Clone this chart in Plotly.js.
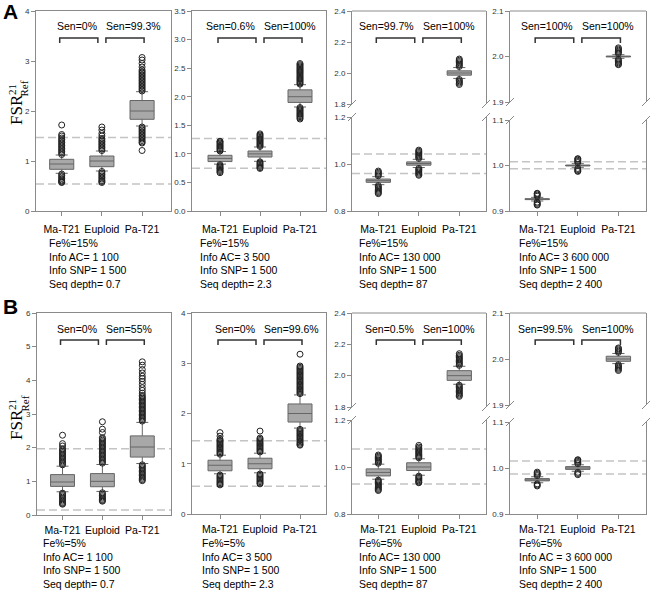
<!DOCTYPE html>
<html><head><meta charset="utf-8">
<script src="https://cdn.plot.ly/plotly-3.0.1.min.js"></script>
<style>html,body{margin:0;padding:0;background:#fff}</style>
</head><body><div id="chart" style="width:654px;height:591px"></div>
<script>
const categories = ['Ma-T21','Euploid','Pa-T21'];

// ---- Panel A1 ----
const A1_low=[0.754,0.80,1.70], A1_q1=[0.834,0.886,1.834], A1_med=[0.94,1.0,2.0], A1_q3=[1.034,1.10,2.21], A1_up=[1.12,1.20,2.386];
const A1_outMa=[1.13,1.16,1.19,1.22,1.25,1.28,1.31,1.34,1.37,1.40,1.43,1.46,1.50,1.53,1.72,0.74,0.71,0.68,0.65,0.62,0.60,0.58,0.57];
const A1_outEu=[1.21,1.24,1.27,1.30,1.33,1.36,1.39,1.42,1.45,1.50,1.55,1.62,1.68,0.79,0.76,0.73,0.70,0.67,0.64,0.61,0.59,0.57];
const A1_outPa=[2.40,2.43,2.46,2.49,2.52,2.55,2.58,2.61,2.64,2.67,2.70,2.73,2.76,2.79,2.82,2.88,2.95,3.02,3.07,1.68,1.65,1.62,1.59,1.56,1.53,1.50,1.47,1.44,1.41,1.38,1.36,1.21];
const A1_cut=[0.54,1.47], A1_sen=['Sen=0%','Sen=99.3%'], A1_info=['Fe%=15%','Info AC= 1 100','Info SNP= 1 500','Seq depth= 0.7'];
// ---- Panel A2 ----
const A2_low=[0.82,0.87,1.82], A2_q1=[0.865,0.945,1.90], A2_med=[0.92,1.0,2.0], A2_q3=[0.975,1.05,2.12], A2_up=[1.04,1.12,2.21];
const A2_outMa=[1.05,1.07,1.09,1.11,1.13,1.15,1.17,1.19,1.21,1.22,0.81,0.79,0.77,0.75,0.73,0.71,0.69,0.67];
const A2_outEu=[1.13,1.15,1.17,1.19,1.21,1.23,1.25,1.27,1.29,1.31,1.33,1.35,0.86,0.84,0.82,0.80,0.78,0.76,0.745];
const A2_outPa=[2.22,2.24,2.26,2.28,2.30,2.32,2.34,2.36,2.38,2.40,2.42,2.44,2.46,2.48,2.50,2.52,2.54,2.56,2.58,1.81,1.79,1.77,1.75,1.73,1.71,1.69,1.67,1.65,1.63,1.61];
const A2_cut=[0.75,1.27], A2_sen=['Sen=0.6%','Sen=100%'], A2_info=['Fe%=15%','Info AC= 3 500','Info SNP= 1 500','Seq depth= 2.3'];
// ---- Panel A3 ----
const A3_low=[0.912,0.985,1.965], A3_q1=[0.922,0.995,1.986], A3_med=[0.929,1.002,2.0], A3_q3=[0.936,1.009,2.014], A3_up=[0.946,1.02,2.035];
const A3_outMa=[0.950,0.955,0.960,0.965,0.970,0.908,0.903,0.898,0.893,0.888,0.883,0.878,0.874];
const A3_outEu=[1.024,1.029,1.034,1.039,1.044,1.049,1.054,1.059,0.981,0.976,0.971,0.966,0.961,0.956,0.952];
const A3_outPa=[2.042,2.050,2.058,2.066,2.074,2.082,2.090,1.958,1.950,1.942,1.934,1.926];
const A3_cut=[0.96,1.043], A3_sen=['Sen=99.7%','Sen=100%'], A3_info=['Fe%=15%','Info AC= 130 000','Info SNP= 1 500','Seq depth= 87'];
// ---- Panel A4 ----
const A4_low=[0.922,0.996,1.996], A4_q1=[0.925,0.999,1.999], A4_med=[0.926,1.0,2.0], A4_q3=[0.927,1.001,2.001], A4_up=[0.930,1.004,2.004];
const A4_outMa=[0.9325,0.935,0.9375,0.939,0.9195,0.917,0.9145,0.913];
const A4_outEu=[1.0065,1.009,1.0115,1.014,1.015,0.9935,0.991,0.9885,0.987];
const A4_outPa=[2.0065,2.009,2.0115,2.014,2.0165,2.019,1.9935,1.991,1.9885,1.986,1.9835,1.982];
const A4_cut=[0.993,1.008], A4_sen=['Sen=100%','Sen=100%'], A4_info=['Fe%=15%','Info AC= 3 600 000','Info SNP= 1 500','Seq depth= 2 400'];
// ---- Panel B1 ----
const B1_low=[0.69,0.70,1.53], B1_q1=[0.85,0.84,1.72], B1_med=[0.98,1.0,2.02], B1_q3=[1.20,1.23,2.35], B1_up=[1.45,1.50,2.75];
const B1_outMa=[1.49,1.53,1.57,1.61,1.65,1.69,1.73,1.77,1.81,1.85,1.89,1.93,1.97,2.05,2.12,2.37,0.65,0.61,0.57,0.53,0.49,0.45,0.41,0.37,0.34,0.32];
const B1_outEu=[1.54,1.58,1.62,1.66,1.70,1.74,1.78,1.82,1.86,1.90,1.94,1.98,2.02,2.06,2.10,2.14,2.18,2.22,2.26,2.30,2.45,2.55,2.77,0.66,0.62,0.58,0.54,0.50,0.46,0.43,0.41];
const B1_outPa=[2.79,2.83,2.87,2.91,2.95,2.99,3.03,3.07,3.11,3.15,3.19,3.23,3.27,3.31,3.35,3.39,3.43,3.47,3.51,3.55,3.62,3.70,3.78,3.88,3.97,4.05,4.12,4.22,4.32,4.45,4.55,1.49,1.45,1.41,1.37,1.33,1.29,1.25,1.21,1.17,1.13,1.09,1.05,1.02];
const B1_cut=[0.15,1.97], B1_sen=['Sen=0%','Sen=55%'], B1_info=['Fe%=5%','Info AC= 1 100','Info SNP= 1 500','Seq depth= 0.7'];
// ---- Panel B2 ----
const B2_low=[0.80,0.82,1.71], B2_q1=[0.86,0.90,1.83], B2_med=[0.97,1.0,2.0], B2_q3=[1.07,1.11,2.19], B2_up=[1.17,1.21,2.37];
const B2_outMa=[1.19,1.215,1.24,1.265,1.29,1.315,1.34,1.365,1.39,1.415,1.44,1.465,1.49,1.55,1.62,0.775,0.75,0.725,0.70,0.675,0.65,0.625,0.60,0.58];
const B2_outEu=[1.235,1.26,1.285,1.31,1.335,1.36,1.385,1.41,1.435,1.46,1.485,1.51,1.65,0.795,0.77,0.745,0.72,0.695,0.67,0.645,0.62,0.60];
const B2_outPa=[2.395,2.42,2.445,2.47,2.495,2.52,2.545,2.57,2.595,2.62,2.645,2.67,2.695,2.72,2.745,2.77,2.795,2.82,2.845,2.87,2.895,2.92,2.945,3.18,1.685,1.66,1.635,1.61,1.585,1.56,1.535,1.51,1.485,1.46,1.435,1.41,1.385,1.37];
const B2_cut=[0.55,1.46], B2_sen=['Sen=0%','Sen=99.6%'], B2_info=['Fe%=5%','Info AC= 3 500','Info SNP= 1 500','Seq depth= 2.3'];
// ---- Panel B3 ----
const B3_low=[0.948,0.965,1.945], B3_q1=[0.962,0.985,1.97], B3_med=[0.977,1.0,2.0], B3_q3=[0.992,1.018,2.032], B3_up=[1.012,1.035,2.06];
const B3_outMa=[1.016,1.021,1.026,1.031,1.036,1.041,1.046,1.051,0.944,0.939,0.934,0.929,0.924,0.919,0.914,0.909,0.904,0.90];
const B3_outEu=[1.039,1.044,1.049,1.054,1.059,1.064,1.069,1.074,1.079,1.085,1.092,0.961,0.956,0.951,0.946,0.941,0.936,0.933];
const B3_outPa=[2.066,2.074,2.082,2.090,2.098,2.106,2.114,2.122,2.130,2.140,1.939,1.931,1.923,1.915,1.907,1.899,1.891,1.883,1.875,1.868];
const B3_cut=[0.928,1.077], B3_sen=['Sen=0.5%','Sen=100%'], B3_info=['Fe%=5%','Info AC= 130 000','Info SNP= 1 500','Seq depth= 87'];
// ---- Panel B4 ----
const B4_low=[0.968,0.993,1.99], B4_q1=[0.972,0.997,1.995], B4_med=[0.974,1.0,2.0], B4_q3=[0.977,1.003,2.006], B4_up=[0.981,1.007,2.012];
const B4_outMa=[0.9835,0.986,0.9885,0.991,0.9655,0.963,0.961];
const B4_outEu=[1.0095,1.012,1.0145,1.017,1.018,0.9905,0.988,0.9855];
const B4_outPa=[2.0145,2.017,2.0195,2.022,2.024,1.9875,1.985,1.9825,1.98,1.9775,1.975];
const B4_cut=[0.987,1.015], B4_sen=['Sen=99.5%','Sen=100%'], B4_info=['Fe%=5%','Info AC = 3 600 000','Info SNP= 1 500','Seq depth= 2 400'];

// ---------- layout geometry (pixels) ----------
const W=654, H=591;
const fx=p=>p/W, fy=p=>1-p/H;
const full=[0,1,2], low2=[0,1], top1=[2];
const panels=[
 {st:[A1_low,A1_q1,A1_med,A1_q3,A1_up], out:[A1_outMa,A1_outEu,A1_outPa], cut:A1_cut, sen:A1_sen, info:A1_info,
  px:[36,171], xr:[-0.64,2.72], top:11, infoX:47, infoY:243, stand:4,
  segs:[{py:[11,211], r:[0,4], dt:1, dec:0, cats:full}]},
 {st:[A2_low,A2_q1,A2_med,A2_q3,A2_up], out:[A2_outMa,A2_outEu,A2_outPa], cut:A2_cut, sen:A2_sen, info:A2_info,
  px:[192,326], xr:[-0.70,2.65], top:11, infoX:198, infoY:243, stand:4,
  segs:[{py:[11,211], r:[0,3.5], dt:0.5, dec:1, cats:full}]},
 {st:[A3_low,A3_q1,A3_med,A3_q3,A3_up], out:[A3_outMa,A3_outEu,A3_outPa], cut:A3_cut, sen:A3_sen, info:A3_info,
  px:[352,486], xr:[-0.65,2.66], top:11, infoX:357, infoY:243, stand:4,
  segs:[{py:[117,211], r:[0.8,1.2], dt:0.2, dec:1, cats:low2},{py:[11,104], r:[1.8,2.4], dt:0.2, dec:1, cats:top1}]},
 {st:[A4_low,A4_q1,A4_med,A4_q3,A4_up], out:[A4_outMa,A4_outEu,A4_outPa], cut:A4_cut, sen:A4_sen, info:A4_info,
  px:[510,646], xr:[-0.67,2.68], top:11, infoX:517, infoY:243, stand:4,
  segs:[{py:[120,211], r:[0.9,1.1], dt:0.1, dec:1, cats:low2},{py:[11,102], r:[1.9,2.1], dt:0.1, dec:1, cats:top1}]},
 {st:[B1_low,B1_q1,B1_med,B1_q3,B1_up], out:[B1_outMa,B1_outEu,B1_outPa], cut:B1_cut, sen:B1_sen, info:B1_info,
  px:[37,171], xr:[-0.64,2.72], top:313, infoX:41, infoY:543, stand:1,
  segs:[{py:[313,515], r:[0,6], dt:1, dec:0, cats:full}]},
 {st:[B2_low,B2_q1,B2_med,B2_q3,B2_up], out:[B2_outMa,B2_outEu,B2_outPa], cut:B2_cut, sen:B2_sen, info:B2_info,
  px:[192,326], xr:[-0.70,2.65], top:313, infoX:200, infoY:543, stand:1,
  segs:[{py:[313,514], r:[0,4], dt:1, dec:0, cats:full}]},
 {st:[B3_low,B3_q1,B3_med,B3_q3,B3_up], out:[B3_outMa,B3_outEu,B3_outPa], cut:B3_cut, sen:B3_sen, info:B3_info,
  px:[352,486], xr:[-0.65,2.66], top:313, infoX:357, infoY:543, stand:1,
  segs:[{py:[420,514], r:[0.8,1.2], dt:0.2, dec:1, cats:low2},{py:[313,407], r:[1.8,2.4], dt:0.2, dec:1, cats:top1}]},
 {st:[B4_low,B4_q1,B4_med,B4_q3,B4_up], out:[B4_outMa,B4_outEu,B4_outPa], cut:B4_cut, sen:B4_sen, info:B4_info,
  px:[510,646], xr:[-0.67,2.68], top:313, infoX:517, infoY:543, stand:1,
  segs:[{py:[422,514], r:[0.9,1.1], dt:0.1, dec:1, cats:low2},{py:[313,405], r:[1.9,2.1], dt:0.1, dec:1, cats:top1}]}
];

const AX='#8a8a8a';
const FONT='Arial, "Liberation Sans", sans-serif';
const FS=10.5;
const traces=[];
const layout={width:W,height:H,margin:{l:0,r:0,t:0,b:0},showlegend:false,hovermode:false,
  paper_bgcolor:'#fff',plot_bgcolor:'#fff',shapes:[],annotations:[]};
let xc=0, yc=0;
const sfx=n=>n===1?'':String(n);

panels.forEach(p=>{
  xc++; const xn='x'+sfx(xc);
  const yNames=[];
  const xpx=(p.px[1]-p.px[0])/(p.xr[1]-p.xr[0]);
  p.segs.forEach((s,si)=>{
    yc++; const yn='y'+sfx(yc); yNames.push(yn);
    const tv=[], tt=[];
    for(let k=0;;k++){const v=+(s.r[0]+k*s.dt).toFixed(4); if(v>s.r[1]+1e-9)break; tv.push(v); tt.push(v.toFixed(s.dec));}
    layout['yaxis'+sfx(yc)]={domain:[fy(s.py[1]),fy(s.py[0])],range:s.r,anchor:xn,showline:true,mirror:true,
      linecolor:AX,linewidth:1,ticks:'outside',ticklen:4,tickcolor:AX,tickvals:tv,ticktext:tt,
      tickfont:{family:FONT,size:8,color:'#333'},showgrid:false,zeroline:false,fixedrange:true};
    const c=s.cats;
    traces.push({type:'box',xaxis:xn,yaxis:yn,orientation:'v',x:c,
      lowerfence:c.map(i=>p.st[0][i]),q1:c.map(i=>p.st[1][i]),median:c.map(i=>p.st[2][i]),
      q3:c.map(i=>p.st[3][i]),upperfence:c.map(i=>p.st[4][i]),
      width:0.6,whiskerwidth:0.5,boxpoints:false,fillcolor:'#a8a8a8',line:{color:'#666',width:1}});
    const ox=[], oy=[];
    c.forEach(i=>p.out[i].forEach(v=>{ox.push(i);oy.push(v);}));
    traces.push({type:'scatter',mode:'markers',xaxis:xn,yaxis:yn,x:ox,y:oy,
      marker:{symbol:'circle-open',size:6,color:'#222',line:{width:1}}});
  });
  const broken=p.segs.length>1;
  layout['xaxis'+sfx(xc)]={domain:[fx(p.px[0]),fx(p.px[1])],range:p.xr,anchor:yNames[0],showline:true,mirror:!broken,
    linecolor:AX,linewidth:1,ticks:'outside',ticklen:4,tickcolor:AX,tickvals:[0,1,2],ticktext:categories,
    ticklabelstandoff:p.stand,tickfont:{family:FONT,size:FS,color:'#000'},showgrid:false,zeroline:false,fixedrange:true};
  p.cut.forEach(v=>layout.shapes.push({type:'line',xref:xn+' domain',x0:0,x1:1,yref:yNames[0],y0:v,y1:v,layer:'below',
    line:{color:'#c4c4c4',width:1.5,dash:'8px,4px'}}));
  if(broken){
    const tp=p.segs[1].py, bp=p.segs[0].py;
    layout.shapes.push({type:'line',xref:'paper',yref:'paper',x0:fx(p.px[0]),x1:fx(p.px[1]),y0:fy(tp[0]),y1:fy(tp[0]),line:{color:AX,width:1}});
    [p.px[0],p.px[1]].forEach(xp=>{
      [tp[1],bp[0]].forEach(yp=>{
        layout.shapes.push({type:'line',xref:'paper',yref:'paper',x0:fx(xp-4),x1:fx(xp+4),y0:fy(yp+4),y1:fy(yp-4),line:{color:AX,width:1}});
      });
    });
  }
  const br=[[-0.05,0.9],[1.1,2.05]];
  const off=1/xpx;
  br.forEach((b,bi)=>{
    const yl=fy(p.top+27), yt=fy(p.top+32);
    layout.shapes.push({type:'path',xref:xn,yref:'paper',path:`M ${b[0]},${yt} L ${b[0]},${yl} L ${b[1]},${yl} L ${b[1]},${yt}`,
      line:{color:'#333',width:1.5}});
    layout.annotations.push({xref:xn,yref:'paper',x:bi===0?b[1]+off:b[0]-2*off,y:fy(p.top+(p.top>100?16:15)),text:p.sen[bi],showarrow:false,
      xanchor:bi===0?'right':'left',yanchor:'middle',font:{family:FONT,size:FS,color:'#000'}});
  });
  p.info.forEach((t,li)=>{
    layout.annotations.push({xref:'paper',yref:'paper',x:fx(p.infoX),y:fy(p.infoY+li*13.7),xanchor:'left',yanchor:'middle',
      text:t,showarrow:false,font:{family:FONT,size:FS,color:'#000'}});
  });
});

[['A',11,12,110],['B',10,306,425]].forEach(([L,lx,ly,cy])=>{
  layout.annotations.push({xref:'paper',yref:'paper',x:fx(lx),y:fy(ly),text:'<b>'+L+'</b>',showarrow:false,
    xanchor:'center',yanchor:'middle',font:{family:FONT,size:21,color:'#000'}});
  const serif='"Liberation Serif","Times New Roman",serif';
  layout.annotations.push({xref:'paper',yref:'paper',x:fx(16),y:fy(cy),text:'FSR',textangle:-90,showarrow:false,
    xanchor:'center',yanchor:'middle',font:{family:serif,size:17,color:'#000'}});
  layout.annotations.push({xref:'paper',yref:'paper',x:fx(12),y:fy(cy-20),text:'21',textangle:-90,showarrow:false,
    xanchor:'center',yanchor:'middle',font:{family:serif,size:11,color:'#000'}});
  layout.annotations.push({xref:'paper',yref:'paper',x:fx(24),y:fy(cy-21.5),text:'Ref',textangle:-90,showarrow:false,
    xanchor:'center',yanchor:'middle',font:{family:serif,size:11,color:'#000'}});
});

Plotly.newPlot('chart',traces,layout,{staticPlot:true,displayModeBar:false});
</script></body></html>
